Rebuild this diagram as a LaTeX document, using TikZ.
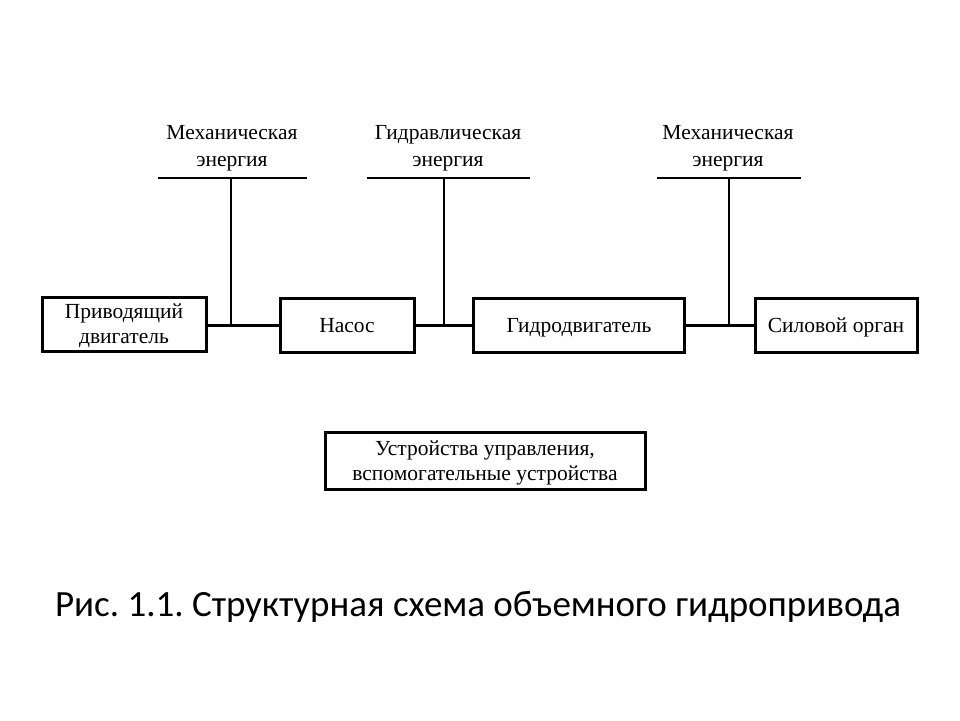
\documentclass[tikz,border=0pt]{standalone}
\usepackage{fontspec}
\setmainfont{Liberation Serif}
\newfontfamily\capfont{Carlito}
\frenchspacing
\begin{document}
\begin{tikzpicture}[x=1pt,y=-1pt,
  blk/.style={draw, line width=3pt, inner sep=0pt, font=\fontsize{21.5}{25}\selectfont, align=center},
  one/.style={text height=14pt, text depth=0pt},
  lbl/.style={font=\fontsize{21.5}{27}\selectfont, align=center, inner sep=0pt},
  thick link/.style={line width=3pt},
  thin link/.style={line width=1.5pt}]
\useasboundingbox (0,0) rectangle (960,720);
\node[blk, minimum width=164pt, minimum height=54pt] (b1) at (124,324) {};
\node[font=\fontsize{21.5}{25}\selectfont, align=center, inner sep=0pt] (b1t) at (124,326) {Приводящий\\двигатель};
\node[blk, one, minimum width=134pt, minimum height=54pt] (b2) at (347,325) {Насос};
\node[blk, one, minimum width=211pt, minimum height=54pt] (b3) at (579,325) {Гидродвигатель};
\node[blk, one, minimum width=162pt, minimum height=54pt] (b4) at (836,325) {Силовой орган};
\node[blk, minimum width=320pt, minimum height=57pt] (b5) at (485,461) {};
\node[font=\fontsize{21.5}{25}\selectfont, align=center, inner sep=0pt] (b5t) at (485,463) {Устройства управления,\\вспомогательные устройства};

\coordinate (j1) at (231,325);
\coordinate (j2) at (444,325);
\coordinate (j3) at (729,325);
\coordinate (t1) at (231,178);
\coordinate (t2) at (444,178);
\coordinate (t3) at (729,178);
\coordinate (l1a) at (158,178); \coordinate (l1b) at (307,178);
\coordinate (l2a) at (367,178); \coordinate (l2b) at (530,178);
\coordinate (l3a) at (657,178); \coordinate (l3b) at (801,178);

\draw[thick link] (b1.east |- j1) -- (b2.west |- j1);
\draw[thick link] (b2.east |- j2) -- (b3.west |- j2);
\draw[thick link] (b3.east |- j3) -- (b4.west |- j3);
\draw[thin link] (t1) -- (j1);
\draw[thin link] (t2) -- (j2);
\draw[thin link] (t3) -- (j3);
\draw[thin link] (l1a) -- (l1b);
\draw[thin link] (l2a) -- (l2b);
\draw[thin link] (l3a) -- (l3b);

\node[lbl] (e1) at (232,148) {Механическая\\энергия};
\node[lbl] (e2) at (448,148) {Гидравлическая\\энергия};
\node[lbl] (e3) at (728,148) {Механическая\\энергия};

\node[font=\capfont\fontsize{37}{40}\selectfont, inner sep=0pt] (cap) at (478,607) {Рис. 1.1. Структурная схема объемного гидропривода};
\end{tikzpicture}
\end{document}
